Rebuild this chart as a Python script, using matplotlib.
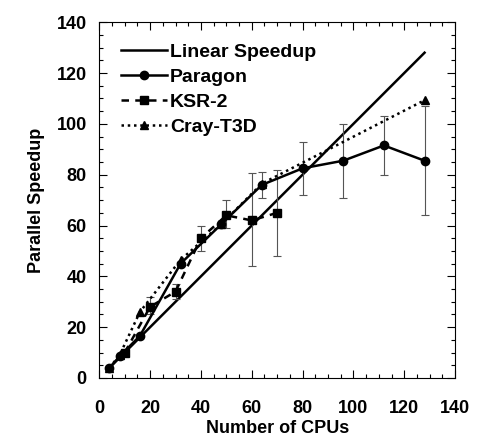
import matplotlib
matplotlib.use("Agg")
import matplotlib.pyplot as plt
from matplotlib.ticker import MultipleLocator
from matplotlib.lines import Line2D

plt.rcParams['font.family'] = ['Liberation Sans', 'DejaVu Sans']

linear_x = [4, 128]
linear_y = [4, 128]

paragon_x = [4, 8, 16, 32, 48, 64, 80, 96, 112, 128]
paragon_y = [4, 8.5, 16.6, 45, 60.5, 76, 82.5, 85.5, 91.5, 85.5]
paragon_lo = [4, 8.5, 16.6, 45, 60.5, 71, 72, 71, 80, 64]
paragon_hi = [4, 8.5, 16.6, 45, 60.5, 81, 93, 100, 103, 107]

ksr_x = [10, 20, 30, 40, 50, 60, 70]
ksr_y = [10, 28, 34, 55, 64, 62, 65]
ksr_lo = [10, 25, 31, 50, 59, 44, 48]
ksr_hi = [10, 32, 37, 60, 70, 80.5, 82]

cray_x = [4, 8, 16, 32, 48, 64, 128]
cray_y = [4, 9, 26, 46.5, 60.5, 76.5, 109.3]

labels = ['Linear Speedup', 'Paragon', 'KSR-2', 'Cray-T3D']

fig = plt.figure(figsize=(4.78, 4.42), dpi=100)
ax = fig.add_axes([0.2077, 0.1448, 0.7443, 0.805])

dash = (0, (3, 2.5))
dot = (0, (1, 1.5))

ax.plot(linear_x, linear_y, color='black', lw=1.8)

pe = [[y - l for y, l in zip(paragon_y, paragon_lo)], [h - y for y, h in zip(paragon_y, paragon_hi)]]
ax.errorbar(paragon_x, paragon_y, yerr=pe, color='black', lw=1.8, marker='o', ms=6,
            ecolor='#555555', elinewidth=0.8, capsize=3, capthick=0.8)

ke = [[y - l for y, l in zip(ksr_y, ksr_lo)], [h - y for y, h in zip(ksr_y, ksr_hi)]]
ax.errorbar(ksr_x, ksr_y, yerr=ke, color='black', lw=1.8, ls=dash, marker='s', ms=6,
            ecolor='#555555', elinewidth=0.8, capsize=3, capthick=0.8)

ax.plot(cray_x, cray_y, color='black', lw=1.8, ls=dot, marker='^', ms=6)

handles = [
    Line2D([], [], color='black', lw=1.8),
    Line2D([], [], color='black', lw=1.8, marker='o', ms=6),
    Line2D([], [], color='black', lw=1.8, ls=dash, marker='s', ms=6),
    Line2D([], [], color='black', lw=1.8, ls=dot, marker='^', ms=6),
]

ax.set_xlim(0, 140)
ax.set_ylim(0, 140)
ax.xaxis.set_major_locator(MultipleLocator(20))
ax.yaxis.set_major_locator(MultipleLocator(20))
ax.xaxis.set_minor_locator(MultipleLocator(5))
ax.yaxis.set_minor_locator(MultipleLocator(5))
ax.tick_params(which='both', direction='in', top=True, right=True, width=0.8)
ax.tick_params(which='major', length=6, labelsize=13)
ax.tick_params(which='minor', length=3)
ax.tick_params(axis='x', which='major', pad=16)
ax.tick_params(axis='y', which='major', pad=9)
for lab in ax.get_xticklabels() + ax.get_yticklabels():
    lab.set_fontweight('bold')
for s in ax.spines.values():
    s.set_linewidth(0.8)

ax.set_xlabel('Number of CPUs', fontsize=13, fontweight='bold', labelpad=2)
ax.set_ylabel('Parallel Speedup', fontsize=13, fontweight='bold', labelpad=8)

ax.legend(handles, labels, loc='upper left', bbox_to_anchor=(0.038, 0.962), frameon=False,
          handlelength=2.4, handletextpad=0.15, labelspacing=0.38, borderaxespad=0.0,
          prop={'weight': 'bold', 'size': 14})

fig.savefig('out.png', dpi=100)
